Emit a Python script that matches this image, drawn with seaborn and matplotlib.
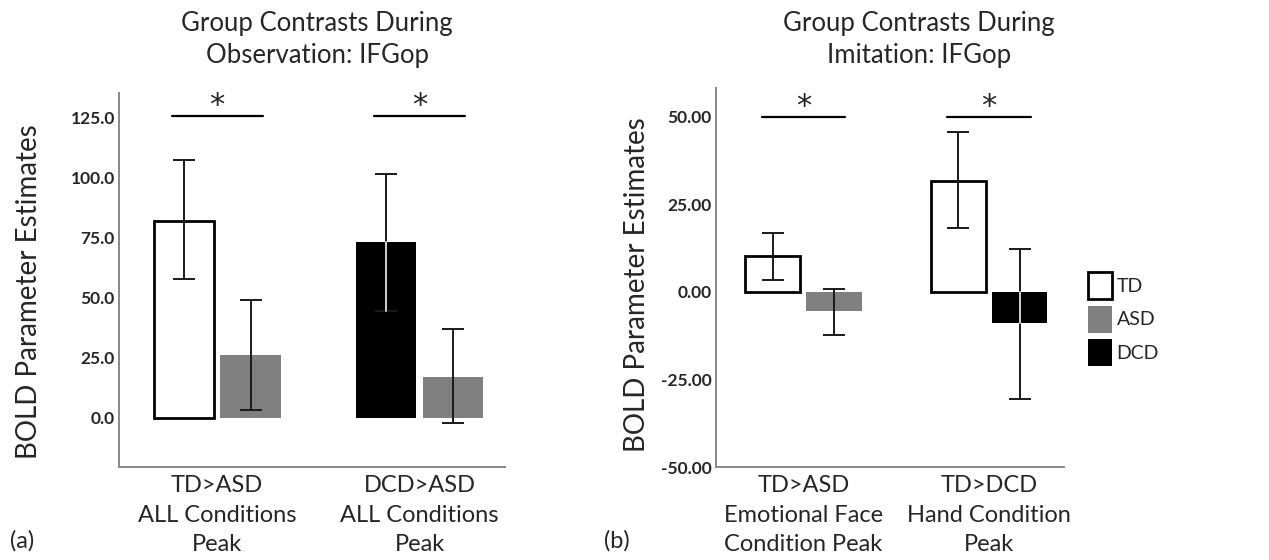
import pandas as pd
import numpy as np
import matplotlib
matplotlib.use("Agg")
import matplotlib.pyplot as plt
import seaborn as sns
from matplotlib.patches import Patch

# Panel (a): observation
a_condition = ["TD>ASD\nALL Conditions\nPeak", "TD>ASD\nALL Conditions\nPeak",
               "DCD>ASD\nALL Conditions\nPeak", "DCD>ASD\nALL Conditions\nPeak"]
a_group = ["TD", "ASD", "DCD", "ASD"]
a_mean = [82.1, 26.1, 73.1, 17.2]
a_lo = [57.7, 3.3, 44.4, -2.2]
a_hi = [107.4, 49.1, 101.5, 36.9]
a_ticks = [0, 25, 50, 75, 100, 125]
a_sig_y = [125.5, 125.5]

# Panel (b): imitation
b_condition = ["TD>ASD\nEmotional Face\nCondition Peak", "TD>ASD\nEmotional Face\nCondition Peak",
               "TD>DCD\nHand Condition\nPeak", "TD>DCD\nHand Condition\nPeak"]
b_group = ["TD", "ASD", "TD", "DCD"]
b_mean = [10.2, -5.6, 31.6, -9.0]
b_lo = [3.5, -12.4, 18.1, -30.5]
b_hi = [16.7, 0.7, 45.5, 12.1]
b_ticks = [-50, -25, 0, 25, 50]
b_sig_y = [50.0, 50.0]

group_colors = {"TD": "white", "ASD": "#808080", "DCD": "black"}

sns.set_style("white")
plt.rcParams['font.family'] = ['Lato', 'DejaVu Sans']


def draw_panel(ax, condition, group, mean, lo, hi, ticks, sig_y, ylim, fmt, star_off):
    df = pd.DataFrame({"condition": condition, "group": group, "mean": mean,
                       "lo": lo, "hi": hi})
    df["slot"] = df.groupby("condition", sort=False).cumcount().astype(str)
    cond_order = list(dict.fromkeys(condition))
    sns.barplot(data=df, x="condition", y="mean", hue="slot", order=cond_order,
                width=0.66, gap=0.1, errorbar=None, legend=False, ax=ax)
    for p in list(ax.patches):
        xc = p.get_x() + p.get_width() / 2
        ci = int(round(xc))
        si = 0 if xc < ci else 1
        row = df[(df["condition"] == cond_order[ci]) & (df["slot"] == str(si))].iloc[0]
        g = row["group"]
        p.set_facecolor(group_colors[g])
        if g == "TD":
            p.set_edgecolor("black")
            p.set_linewidth(2)
        else:
            p.set_edgecolor("none")
            p.set_linewidth(0)
        ax.errorbar(xc, row["mean"], yerr=[[row["mean"] - row["lo"]], [row["hi"] - row["mean"]]],
                    fmt="none", ecolor="#1a1a1a", elinewidth=1.4, capsize=8, capthick=1.4,
                    zorder=5)
        if g == "DCD":
            # the whisker shows light where it crosses the black bar
            top = min(max(row["mean"], 0), row["hi"])
            bot = max(min(row["mean"], 0), row["lo"])
            ax.plot([xc, xc], [bot, top], color="#d0d0d0", lw=1.4, zorder=6)
    for i, y in enumerate(sig_y):
        ax.plot([i - 0.225, i + 0.225], [y, y], color="black", lw=1.6)
        ax.text(i, y + star_off, "*", ha="center", va="center", fontsize=22,
                family="DejaVu Sans")
    ax.set_ylim(*ylim)
    ax.set_yticks(ticks)
    ax.set_yticklabels([fmt % t for t in ticks], fontweight="bold", fontsize=12.5)
    ax.tick_params(axis="y", length=0, pad=3)
    ax.tick_params(axis="x", length=0, pad=6, labelsize=17)
    for lab in ax.get_xticklabels():
        lab.set_linespacing(1.5)
    ax.set_xlabel("")
    ax.set_ylabel("BOLD Parameter Estimates", fontsize=20)
    sns.despine(ax=ax)
    for s in ["left", "bottom"]:
        ax.spines[s].set_color("#888888")
        ax.spines[s].set_linewidth(1.4)


fig = plt.figure(figsize=(12.69, 5.6), dpi=100)
ax1 = fig.add_axes([0.0938, 0.166, 0.304, 0.668])
ax2 = fig.add_axes([0.564, 0.166, 0.2745, 0.677])

draw_panel(ax1, a_condition, a_group, a_mean, a_lo, a_hi, a_ticks, a_sig_y,
           (-20.5, 135.3), "%.1f", 4.5)
ax1.set_xlim(-0.484, 1.42)
ax1.yaxis.set_label_coords(-0.2, 0.47)

draw_panel(ax2, b_condition, b_group, b_mean, b_lo, b_hi, b_ticks, b_sig_y,
           (-50, 58.2), "%.2f", 3.0)
ax2.set_xlim(-0.472, 1.404)
ax2.yaxis.set_label_coords(-0.188, 0.48)

handles = [Patch(facecolor=group_colors[g], edgecolor="black" if g == "TD" else "none",
                 linewidth=2 if g == "TD" else 0, label=g) for g in ["TD", "ASD", "DCD"]]
fig.legend(handles=handles, loc="center left", bbox_to_anchor=(0.857, 0.43),
           frameon=False, fontsize=14, handlelength=1.25, handleheight=1.75,
           handletextpad=0.25, labelspacing=0.35, borderaxespad=0, borderpad=0)

fig.text(0.25, 0.93, "Group Contrasts During\nObservation: IFGop", ha="center",
         va="center", fontsize=18.5, linespacing=1.35)
fig.text(0.724, 0.93, "Group Contrasts During\nImitation: IFGop", ha="center",
         va="center", fontsize=18.5, linespacing=1.35)
fig.text(0.008, 0.035, "(a)", fontsize=17, va="center")
fig.text(0.476, 0.035, "(b)", fontsize=17, va="center")

plt.savefig("out.png", dpi=100)
